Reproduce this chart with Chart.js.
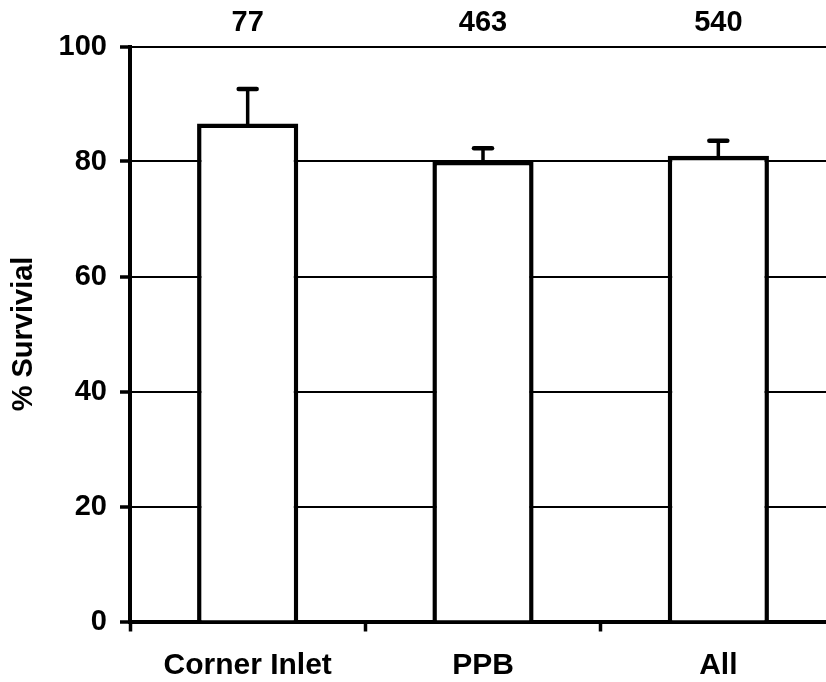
<!DOCTYPE html>
<html>
<head>
<meta charset="utf-8">
<title>% Survival by site</title>
<script src="https://cdn.jsdelivr.net/npm/chart.js@4.4.0/dist/chart.umd.min.js"></script>
<style>
    html, body { margin: 0; padding: 0; background: #fff; overflow: hidden; }
    #wrap { width: 836px; height: 682px; }
</style>
</head>
<body>
<div id="wrap"><canvas id="survivalChart"></canvas></div>
<script>
// Survival per site, with SE (upper only) and number of fish above each bar
const sites = ['Corner Inlet', 'PPB', 'All'];
const survival = [86.6, 80.1, 81.0];
const survivalErr = [6.0, 2.2, 2.6];
const sampleSizes = ['77', '463', '540'];
const yTicks = [0, 20, 40, 60, 80, 100];

const FAMILY = '"Liberation Sans", Arial, sans-serif';
const FONT = { family: FAMILY, size: 29, weight: 'bold' };
const LABEL_FONT = { family: FAMILY, size: 30, weight: 'bold' };

// draws the upward error bar on each bar
const errorBars = {
    id: 'errorBars',
    afterDatasetsDraw(chart) {
        const ctx = chart.ctx;
        const yScale = chart.scales.y;
        const meta = chart.getDatasetMeta(0);
        ctx.save();
        ctx.strokeStyle = '#000';
        ctx.lineCap = 'round';
        meta.data.forEach((bar, i) => {
            const top = yScale.getPixelForValue(survival[i] + survivalErr[i]);
            ctx.lineWidth = 3.5;
            ctx.beginPath();
            ctx.moveTo(bar.x, bar.y);
            ctx.lineTo(bar.x, top);
            ctx.stroke();
            ctx.lineWidth = 4.5;
            ctx.beginPath();
            ctx.moveTo(bar.x - 9, top);
            ctx.lineTo(bar.x + 9, top);
            ctx.stroke();
        });
        ctx.restore();
    }
};

new Chart(document.getElementById('survivalChart'), {
    type: 'bar',
    data: {
        labels: sites,
        datasets: [{
            label: '% Survivial',
            data: survival,
            backgroundColor: '#ffffff',
            borderColor: '#000000',
            borderWidth: 4.5,
            borderSkipped: 'start',
            barPercentage: 0.43,
            categoryPercentage: 1
        }]
    },
    options: {
        responsive: true,
        maintainAspectRatio: false,
        animation: false,
        layout: { padding: 0 },
        plugins: {
            legend: { display: false },
            tooltip: { enabled: false }
        },
        scales: {
            x: {
                position: 'bottom',
                afterFit: (scale) => { scale.height = 60.5; },
                grid: {
                    offset: true,
                    drawOnChartArea: false,
                    drawTicks: true,
                    tickLength: 10,
                    tickWidth: 3.5,
                    tickColor: '#000'
                },
                border: { color: '#000', width: 4 },
                ticks: { color: '#000', font: LABEL_FONT, padding: 16, maxRotation: 0 }
            },
            counts: {
                type: 'category',
                labels: sampleSizes,
                position: 'top',
                offset: true,
                afterFit: (scale) => { scale.height = 46.5; },
                grid: { display: false, drawTicks: false },
                border: { display: false },
                ticks: { color: '#000', font: FONT, padding: 6, maxRotation: 0 }
            },
            y: {
                min: 0,
                max: 100,
                afterFit: (scale) => { scale.width = 130; },
                afterBuildTicks: (scale) => { scale.ticks = yTicks.map(v => ({ value: v })); },
                grid: {
                    color: '#000',
                    lineWidth: 2,
                    drawTicks: true,
                    tickLength: 10,
                    tickWidth: 3.5,
                    tickColor: '#000'
                },
                border: { color: '#000', width: 4 },
                ticks: { color: '#000', font: FONT, padding: 13 },
                title: {
                    display: true,
                    text: '% Survivial',
                    color: '#000',
                    font: FONT,
                    padding: { top: 7, bottom: 0 }
                }
            }
        }
    },
    plugins: [errorBars]
});
</script>
</body>
</html>
